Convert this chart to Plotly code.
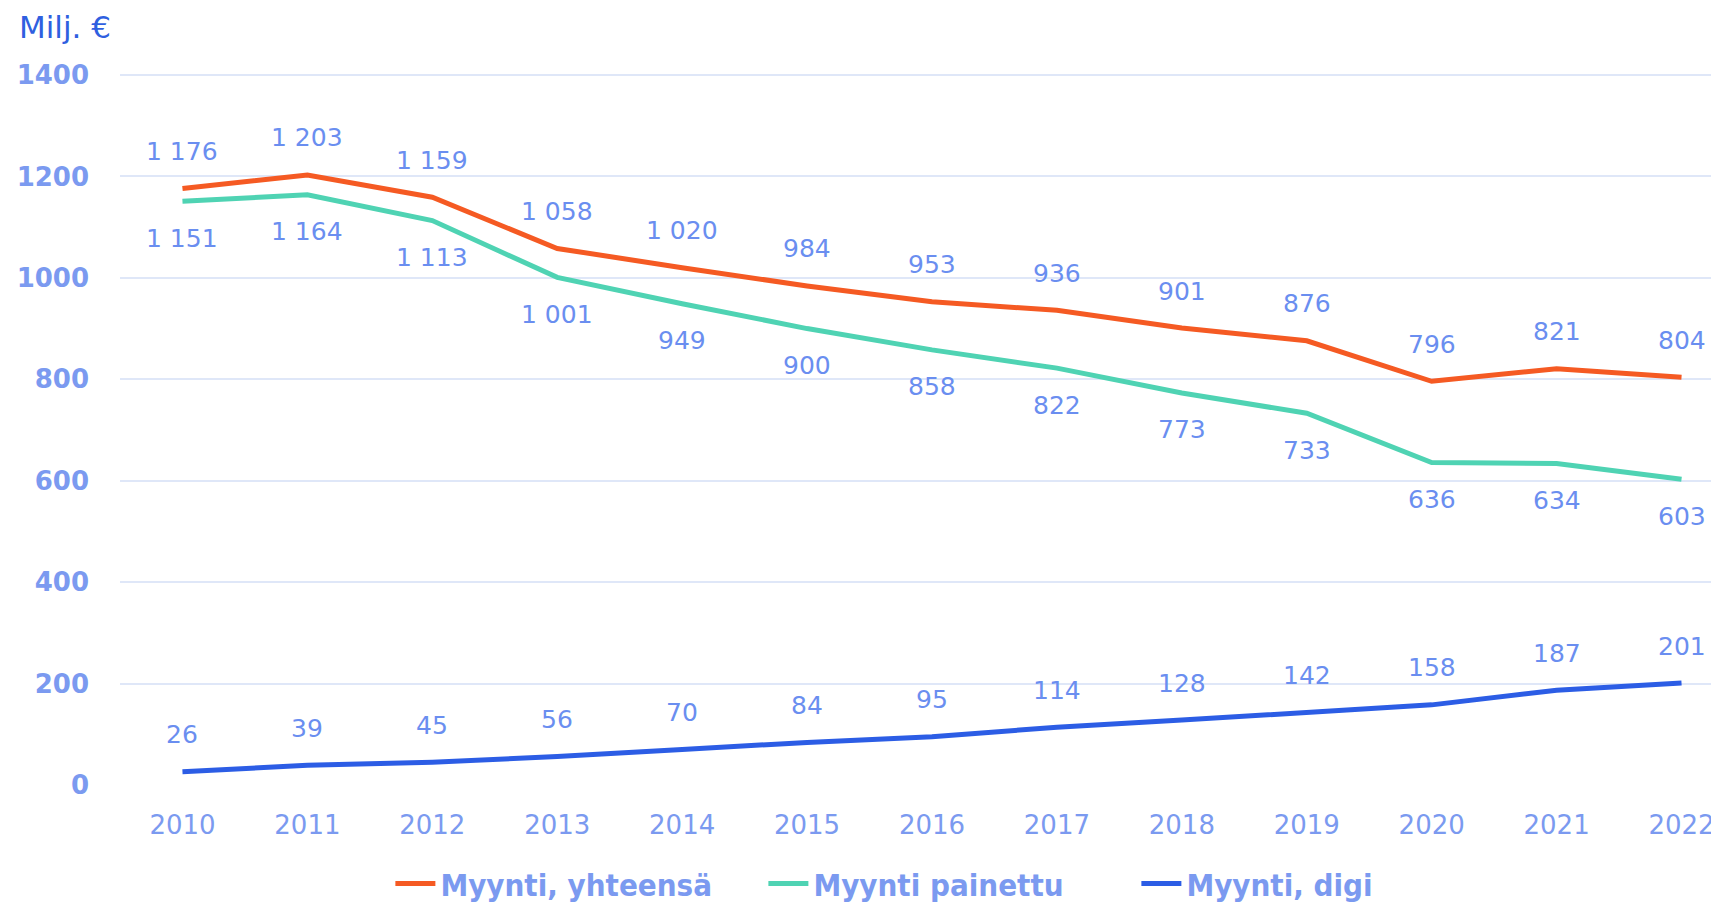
import plotly.graph_objects as go

years = list(range(2010, 2023))
total = [1176, 1203, 1159, 1058, 1020, 984, 953, 936, 901, 876, 796, 821, 804]
printed = [1151, 1164, 1113, 1001, 949, 900, 858, 822, 773, 733, 636, 634, 603]
digital = [26, 39, 45, 56, 70, 84, 95, 114, 128, 142, 158, 187, 201]

names = ["Myynti, yhteensä", "Myynti painettu", "Myynti, digi"]
colors = ["#f55a23", "#4fd3b3", "#2c5de5"]
label_shift = [37, -37, 37]

def fmt(v):
    return f"{v:,}".replace(",", " ")

fig = go.Figure()
for name, vals, col in zip(names, [total, printed, digital], colors):
    fig.add_trace(go.Scatter(x=years, y=vals, mode="lines", name=name,
                             line=dict(color=col, width=5), hoverinfo="x+y"))

label_color = "#6a8ef0"
for vals, sh in zip([total, printed, digital], label_shift):
    for x, v in zip(years, vals):
        fig.add_annotation(x=x, y=v, text=fmt(v), showarrow=False, yshift=sh,
                           xanchor="center", yanchor="middle",
                           font=dict(family="DejaVu Sans", size=25, color=label_color))

fig.add_annotation(xref="paper", yref="paper", x=-102/1599, y=1 + 66/711,
                   xanchor="left", yanchor="top", text="Milj. €", showarrow=False,
                   borderpad=0,
                   font=dict(family="DejaVu Sans", size=31, color="#2f5fe0"))

fig.update_layout(
    width=1711, height=895,
    margin=dict(l=112, r=0, t=66, b=118, autoexpand=False),
    plot_bgcolor="white", paper_bgcolor="white",
    showlegend=True,
    legend=dict(orientation="h", x=0.519, xanchor="center", y=-0.139, yanchor="middle",
                font=dict(family="DejaVu Sans Condensed", size=31, color="#7b9af0", weight="bold"),
                itemwidth=40, traceorder="normal", entrywidth=318, entrywidthmode="pixels"),
    xaxis=dict(range=[2009.5, 2022.3], tickvals=years, ticktext=[str(y) for y in years],
               showgrid=False, zeroline=False, showline=False, ticks="",
               ticklabelstandoff=22,
               tickfont=dict(family="DejaVu Sans", size=26, color="#7b9af0")),
    yaxis=dict(range=[0, 1402], tickvals=list(range(0, 1401, 200)),
               showgrid=True, gridcolor="#dfe7f8", gridwidth=2, zeroline=False,
               showline=False, ticks="", ticklabelstandoff=30,
               tickfont=dict(family="DejaVu Sans", size=26, color="#7b9af0", weight="bold")),
)

fig.write_html("out.html")
